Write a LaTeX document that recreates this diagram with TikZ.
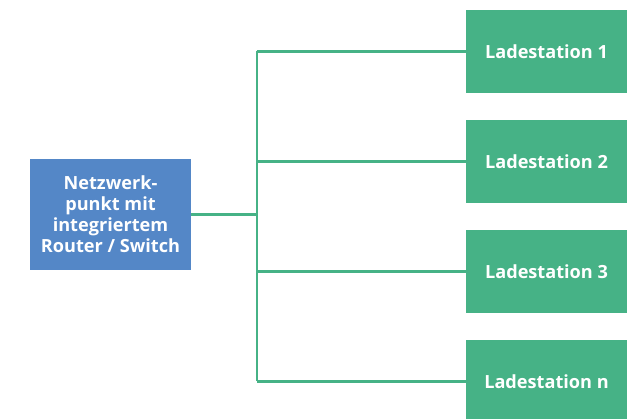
\documentclass[tikz,border=0pt]{standalone}
\usepackage{fontspec}
\setmainfont{Open Sans}
\usetikzlibrary{positioning}
\definecolor{netblue}{RGB}{84,135,199}
\definecolor{ladegreen}{RGB}{70,178,134}

\begin{document}
\begin{tikzpicture}[
x=0.025cm, y=-0.025cm,
netnode/.style={rectangle, fill=netblue, text=white, font=\bfseries\fontsize{12.9}{15}\selectfont, align=center, minimum width=4.02cm, minimum height=2.79cm, inner sep=0pt},
ladenode/.style={rectangle, fill=ladegreen, text=white, font=\bfseries\fontsize{12.9}{15}\selectfont, minimum width=4.03cm, minimum height=2.08cm, inner sep=0pt},
link/.style={draw=ladegreen, line width=1.6pt},
]
\useasboundingbox (0,0) rectangle (632,419);
%Nodes
\node[netnode] (nw) at (110.5,214.5) {Netzwerk-\\punkt mit\\integriertem\\Router / Switch};
\node[ladenode] (l1) at (546.5,51.5) {Ladestation 1};
\node[ladenode] (l2) at (546.5,161.5) {Ladestation 2};
\node[ladenode] (l3) at (546.5,271.5) {Ladestation 3};
\node[ladenode] (ln) at (546.5,381.5) {Ladestation n};
\coordinate (j) at (256.7,214.5);

%Connectors
\draw[link] (nw.east) -- (j);
\draw[link] (j |- l1.west) -- (j |- ln.west);
\foreach \n in {l1,l2,l3,ln}
  \draw[link] (j |- \n.west) -- (\n.west);
\end{tikzpicture}
\end{document}
